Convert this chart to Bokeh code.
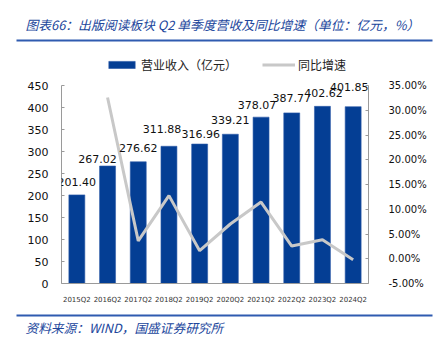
import math
from bokeh.plotting import figure
from bokeh.layouts import column
from bokeh.core.properties import value
from bokeh.models import (ColumnDataSource, FactorRange, Range1d, LinearAxis, FixedTicker,
                          PrintfTickFormatter, LabelSet, Legend, LegendItem)
from bokeh.embed import file_html
from bokeh.resources import INLINE

quarters = ["2015Q2", "2016Q2", "2017Q2", "2018Q2", "2019Q2",
            "2020Q2", "2021Q2", "2022Q2", "2023Q2", "2024Q2"]
revenue = [201.40, 267.02, 276.62, 311.88, 316.96, 339.21, 378.07, 387.77, 402.62, 401.85]
growth = [math.nan, 32.58, 3.60, 12.75, 1.63, 7.02, 11.46, 2.57, 3.83, -0.19]
revenue_labels = ["201.40", "267.02", "276.62", "311.88", "316.96",
                  "339.21", "378.07", "387.77", "402.62", "401.85"]
left_ticks = [0, 50, 100, 150, 200, 250, 300, 350, 400, 450]
right_ticks = [-5, 0, 5, 10, 15, 20, 25, 30, 35]
title_text = "图表66：出版阅读板块 Q2 单季度营收及同比增速（单位：亿元，%）"
source_text = "资料来源：WIND，国盛证券研究所"

# label placement tweaks (screen px), as in the original layout
label_dx = [0, -10, 0, -7, 1, 0, -4, 0, 1, -4]
label_dy = [13, 7, 14, 17, 10, 14, 12, 15, 13, 20]

BAR = "#043E94"
LINE = "#C8C8C8"
BLUE_TXT = "#21469C"
RULE = "#2F5BB0"
FONT = "DejaVu Sans"
CJK = "Noto Sans CJK SC"

W = 436
HEAD_H = 44
FOOT_H = 36
MAIN_H = 346 - HEAD_H - FOOT_H

# ---------------- header ----------------
head = figure(width=W, height=HEAD_H, x_range=Range1d(0, W), y_range=Range1d(HEAD_H, 0),
              x_axis_type=None, y_axis_type=None, min_border=0, frame_align=False,
              output_backend="svg", toolbar_location=None)
head.outline_line_color = None
head.xgrid.visible = False
head.ygrid.visible = False
head.text(x=[25], y=[24], text=[title_text], text_font=value(CJK), text_font_size="12.8px",
          text_font_style="italic", text_color=BLUE_TXT, text_baseline="middle", text_align="left")
head.quad(left=[16], right=[432], top=[39], bottom=[41], fill_color=RULE, line_color=None)

# ---------------- main chart ----------------
src = ColumnDataSource(dict(q=quarters, rev=revenue, g=growth, lab=revenue_labels,
                            dx=label_dx, dy=label_dy))

frame_h = 283 - HEAD_H          # frame spans from the header bottom to the x axis
px_per_left = 198 / 450.0
px_per_right = 198 / 40.0
p = figure(width=W, height=MAIN_H, x_range=FactorRange(*quarters, range_padding=0),
           y_range=Range1d(0, frame_h / px_per_left), output_backend="svg", toolbar_location=None,
           min_border_left=61, min_border_right=68, min_border_top=0,
           min_border_bottom=MAIN_H - frame_h, frame_align=False)
p.outline_line_color = None
p.xgrid.visible = False
p.ygrid.visible = False
p.extra_y_ranges = {"pct": Range1d(-5, -5 + frame_h / px_per_right)}

bars = p.vbar(x="q", top="rev", width=0.52, source=src, fill_color=BAR,
              line_color="#2F5DAA", line_width=0.6)
ln = p.line(x="q", y="g", source=src, y_range_name="pct", line_color=LINE, line_width=3)

ya = p.yaxis[0]
ya.ticker = FixedTicker(ticks=left_ticks)
ya.bounds = (0, 450)
ya.major_label_text_font = FONT
ya.major_label_text_font_size = "11px"
ya.major_label_text_color = "#111111"
ya.axis_line_color = "#9A9A9A"
ya.major_tick_line_color = "#9A9A9A"
ya.major_tick_in = 3
ya.major_tick_out = 0
ya.minor_tick_line_color = None
ya.major_label_standoff = 13

ra = LinearAxis(y_range_name="pct", ticker=FixedTicker(ticks=right_ticks),
                formatter=PrintfTickFormatter(format="%.2f%%"), bounds=(-5, 35))
ra.major_label_text_font = FONT
ra.major_label_text_font_size = "10px"
ra.major_label_text_color = "#111111"
ra.axis_line_color = "#9A9A9A"
ra.major_tick_line_color = "#9A9A9A"
ra.major_tick_in = 3
ra.major_tick_out = 0
ra.minor_tick_line_color = None
ra.major_label_standoff = 20
p.add_layout(ra, "right")

xa = p.xaxis[0]
xa.major_label_text_font = FONT
xa.major_label_text_font_size = "7px"
xa.major_label_text_color = "#333333"
xa.axis_line_color = "#9A9A9A"
xa.major_tick_line_color = None
xa.major_label_standoff = 6

labels = LabelSet(x="q", y="rev", text="lab", source=src, x_offset="dx", y_offset="dy",
                  text_align="center", text_baseline="middle",
                  text_font=value(FONT), text_font_size=value("11px"), text_color="#111111")
p.add_layout(labels)

legend = Legend(items=[LegendItem(label="营业收入（亿元）", renderers=[bars]),
                       LegendItem(label="同比增速", renderers=[ln])],
                orientation="horizontal", location=(44, 210),
                glyph_width=33, glyph_height=9, label_standoff=3, spacing=25,
                padding=0, margin=0, border_line_color=None, background_fill_alpha=0,
                label_text_font=CJK, label_text_font_size="12px", label_text_color="#222222")
p.add_layout(legend)

# ---------------- footer ----------------
foot = figure(width=W, height=FOOT_H, x_range=Range1d(0, W), y_range=Range1d(FOOT_H, 0),
              x_axis_type=None, y_axis_type=None, min_border=0, frame_align=False,
              output_backend="svg", toolbar_location=None)
foot.outline_line_color = None
foot.xgrid.visible = False
foot.ygrid.visible = False
foot.quad(left=[16], right=[432], top=[4], bottom=[6], fill_color=RULE, line_color=None)
foot.text(x=[25], y=[17], text=[source_text], text_font=value(CJK), text_font_size="12.7px",
          text_font_style="italic", text_color=BLUE_TXT, text_baseline="middle", text_align="left")

layout = column(head, p, foot, spacing=0)
open("out.html", "w").write(file_html(layout, INLINE))
